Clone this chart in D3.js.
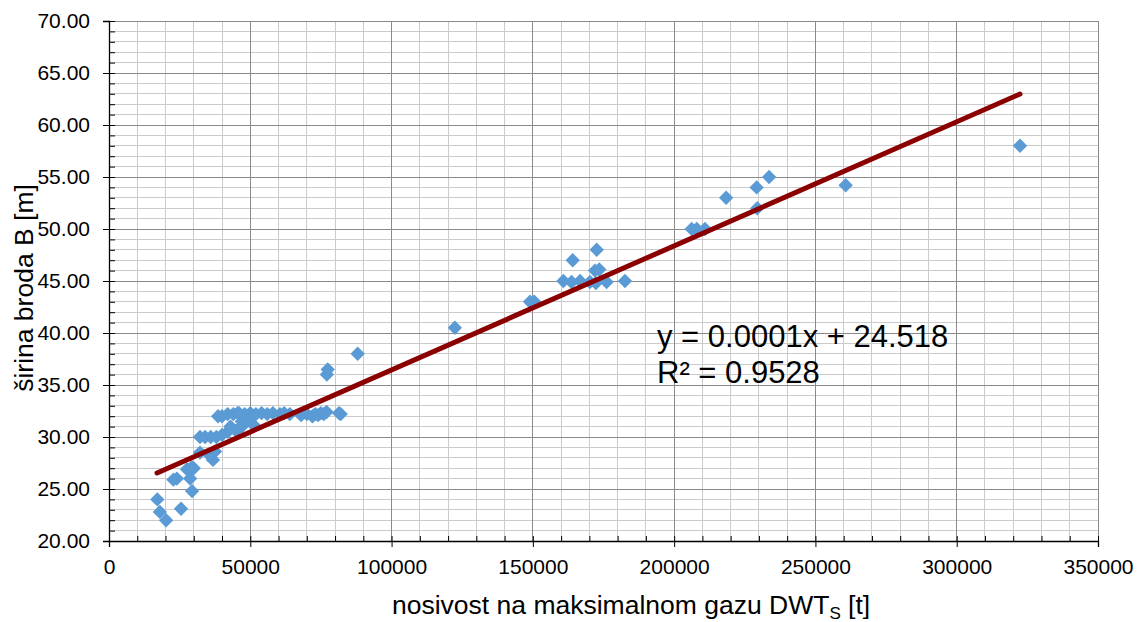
<!DOCTYPE html>
<html>
<head>
<meta charset="utf-8">
<script src="https://cdn.jsdelivr.net/npm/d3@7"></script>
<style>
  html, body { margin: 0; padding: 0; background: #fff; }
  svg { display: block; font-family: "Liberation Sans", Arial, sans-serif; }
</style>
</head>
<body>
<svg id="chart" width="1142" height="622"></svg>
<script>
// ---- data ----
const dwt = [
  17100, 18000, 20200, 25500, 22800, 24000, 27600, 28700, 29300, 29400, 30000,
  32200, 36800, 35500, 37500, 32200, 34000, 36000, 38000, 40000, 42000, 43000,
  45000, 47000, 38600, 40000, 42000, 44000, 46000, 48000, 50000, 52000, 54000,
  56000, 47000, 49000, 51000, 45500, 58000, 60500, 62000, 64000, 68000, 70000,
  72000, 73000, 74000, 75000, 76000, 77000, 81400, 82000, 77100, 77400, 88000,
  122400, 149000, 150500, 160800, 163700, 164100, 166700, 170200, 172000, 172300,
  172600, 173500, 176100, 182600, 206200, 208000, 210900, 218400, 229200, 229400,
  233600, 260700, 322400
];
const beam = [
  24.0, 22.8, 22.0, 23.1, 25.9, 26.0, 26.9, 26.0, 27.1, 24.8, 27.0,
  28.5, 27.8, 28.3, 28.6, 30.0, 30.0, 30.0, 30.0, 30.2, 30.5, 31.0,
  30.6, 31.0, 32.0, 32.0, 32.2, 32.2, 32.3, 32.2, 32.3, 32.2, 32.3,
  32.2, 31.5, 31.7, 31.2, 32.3, 32.3, 32.2, 32.3, 32.2, 32.1, 32.2,
  32.0, 32.2, 32.1, 32.3, 32.2, 32.4, 32.3, 32.2, 36.0, 36.5, 38.0,
  40.5, 43.0, 43.0, 45.0, 44.9, 47.0, 45.0, 44.9, 46.0, 44.8,
  48.0, 46.1, 44.9, 45.0, 50.0, 50.0, 50.0, 53.0, 54.0, 52.0,
  55.0, 54.2, 58.0
];
const xTicks = [0, 50000, 100000, 150000, 200000, 250000, 300000, 350000];
const yTicks = [20, 25, 30, 35, 40, 45, 50, 55, 60, 65, 70];
const trendSlope = 0.0001193;
const trendIntercept = 24.518;
const trendRange = [17000, 322400];
const equationText = "y = 0.0001x + 24.518";
const r2Text = "R² = 0.9528";
const xTitle = "nosivost na maksimalnom gazu DWT";
const xTitleSub = "S";
const xTitleEnd = " [t]";
const yTitle = "širina broda B [m]";

// ---- layout ----
const svg = d3.select("#chart");
const m = { left: 109, top: 21, right: 44, bottom: 81 };
const W = 1142 - m.left - m.right;   // 989
const H = 622 - m.top - m.bottom;    // 520

const x = d3.scaleLinear().domain([0, 350000]).range([0, W]);
const y = d3.scaleLinear().domain([20, 70]).range([H, 0]);

const g = svg.append("g").attr("transform", `translate(${m.left},${m.top})`);

const xMinor = d3.range(0, 350001, 10000);
const yMinor = d3.range(20, 70.001, 1);

// minor grid
g.append("g").selectAll("line.vmin").data(xMinor).join("line")
  .attr("x1", d => x(d)).attr("x2", d => x(d)).attr("y1", 0).attr("y2", H)
  .attr("stroke", "#cbcbcb").attr("stroke-width", 1).attr("shape-rendering", "crispEdges");
g.append("g").selectAll("line.hmin").data(yMinor).join("line")
  .attr("x1", 0).attr("x2", W).attr("y1", d => y(d)).attr("y2", d => y(d))
  .attr("stroke", "#cbcbcb").attr("stroke-width", 1).attr("shape-rendering", "crispEdges");
// major grid
g.append("g").selectAll("line.vmaj").data(xTicks).join("line")
  .attr("x1", d => x(d)).attr("x2", d => x(d)).attr("y1", 0).attr("y2", H)
  .attr("stroke", "#8a8a8a").attr("stroke-width", 1).attr("shape-rendering", "crispEdges");
g.append("g").selectAll("line.hmaj").data(yTicks).join("line")
  .attr("x1", 0).attr("x2", W).attr("y1", d => y(d)).attr("y2", d => y(d))
  .attr("stroke", "#8a8a8a").attr("stroke-width", 1).attr("shape-rendering", "crispEdges");

// minor ticks (inside)
g.append("g").call(d3.axisRight(y).tickValues(yMinor).tickSize(6).tickFormat(""))
  .call(s => s.select(".domain").remove())
  .call(s => s.selectAll("line").attr("stroke", "#000"));
g.append("g").attr("transform", `translate(0,${H})`)
  .call(d3.axisTop(x).tickValues(xMinor).tickSize(5).tickFormat(""))
  .call(s => s.select(".domain").remove())
  .call(s => s.selectAll("line").attr("stroke", "#000"));

// major axes
const yAxis = g.append("g")
  .call(d3.axisLeft(y).tickValues(yTicks).tickSize(6).tickPadding(13).tickFormat(d3.format(".2f")));
yAxis.selectAll("text").attr("font-size", 21).attr("fill", "#000")
  .attr("font-family", "Liberation Sans, Arial, sans-serif");
yAxis.selectAll("line").attr("stroke", "#000");
yAxis.select(".domain").attr("stroke", "#000").attr("stroke-width", 1.3);

const xAxis = g.append("g").attr("transform", `translate(0,${H})`)
  .call(d3.axisBottom(x).tickValues(xTicks).tickSize(6).tickPadding(12).tickFormat(d3.format("d")));
xAxis.selectAll("text").attr("font-size", 21).attr("fill", "#000")
  .attr("font-family", "Liberation Sans, Arial, sans-serif");
xAxis.selectAll("line").attr("stroke", "#000");
xAxis.select(".domain").attr("stroke", "#000").attr("stroke-width", 1.3);

// points
const pts = dwt.map((d, i) => [d, beam[i]]);
const r = 7.2;
g.append("g").selectAll("path").data(pts).join("path")
  .attr("d", `M0,${-r}L${r},0L0,${r}L${-r},0Z`)
  .attr("transform", d => `translate(${x(d[0])},${y(d[1])})`)
  .attr("fill", "#5b9bd5");

// trendline
const trend = trendRange.map(v => [v, trendSlope * v + trendIntercept]);
g.append("path").datum(trend)
  .attr("d", d3.line().x(d => x(d[0])).y(d => y(d[1])))
  .attr("stroke", "#8b0000").attr("stroke-width", 5).attr("stroke-linecap", "round")
  .attr("fill", "none");

// equation
const eq = svg.append("text").attr("font-size", 31).attr("fill", "#000");
eq.append("tspan").attr("x", 657).attr("y", 347).text(equationText);
eq.append("tspan").attr("x", 657).attr("y", 383).text(r2Text);

// axis titles
const xt = svg.append("text").attr("x", 392).attr("y", 614).attr("font-size", 26.5).attr("fill", "#000");
xt.append("tspan").text(xTitle);
xt.append("tspan").attr("font-size", 17).attr("dy", 5).text(xTitleSub);
xt.append("tspan").attr("dy", -5).text(xTitleEnd);

svg.append("text")
  .attr("transform", "translate(33,288) rotate(-90)")
  .attr("text-anchor", "middle").attr("font-size", 26.5).attr("fill", "#000")
  .text(yTitle);
</script>
</body>
</html>
